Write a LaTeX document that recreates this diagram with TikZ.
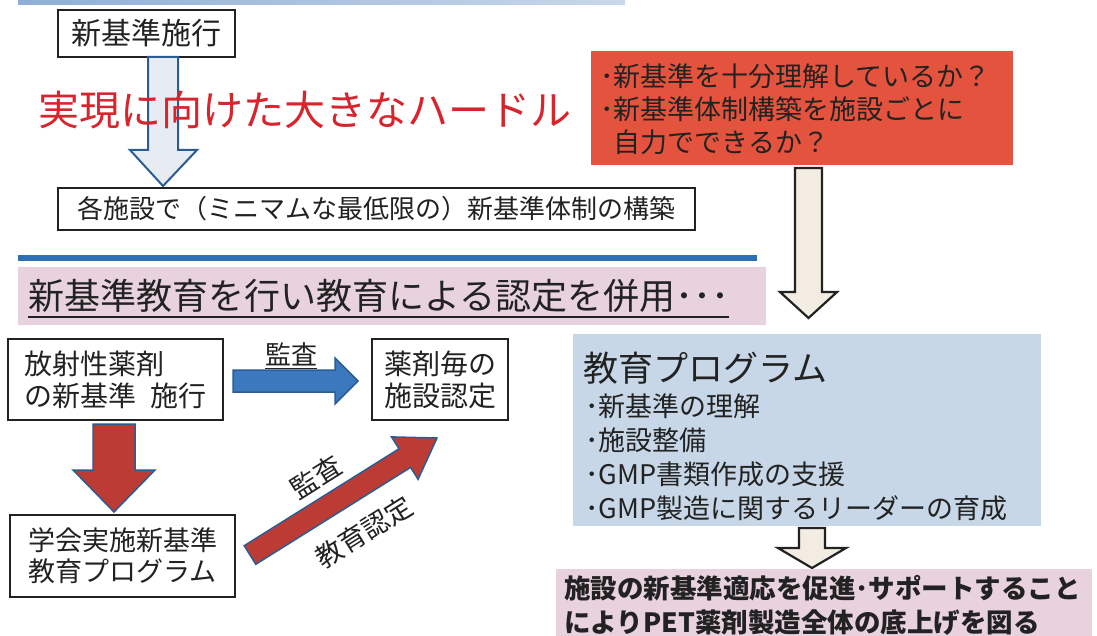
\documentclass[tikz,border=0pt]{standalone}
\usepackage{fontspec}
\setmainfont{Noto Sans CJK JP}
\newcommand\fs[2]{\fontsize{#1pt}{#2pt}\selectfont}
\definecolor{bandA}{HTML}{8FAED6}
\definecolor{bandB}{HTML}{C9D8EA}
\definecolor{hurdle}{HTML}{D8252D}
\definecolor{redbox}{HTML}{E4533D}
\definecolor{beige}{HTML}{F3ECE2}
\definecolor{rule}{HTML}{2E6FB3}
\definecolor{pinkbg}{HTML}{E8D2DE}
\definecolor{bluebg}{HTML}{C7D7E7}
\definecolor{arrblue}{HTML}{3B78BD}
\definecolor{arrblueline}{HTML}{2B5D93}
\definecolor{arrred}{HTML}{BD3B35}
\definecolor{paleblue}{HTML}{E6ECF1}
\definecolor{ink}{HTML}{222222}
\begin{document}
\begin{tikzpicture}[x=1pt,y=-1pt,
  box/.style={draw=ink, line width=1.2pt, fill=white, inner sep=0pt, text=ink},
  hollowblue/.style={draw=arrblueline, fill=paleblue, line width=2pt, line join=miter},
  hollowbeige/.style={draw=ink, fill=beige, line width=2.2pt, line join=miter},
  solidblue/.style={draw=arrblueline, fill=arrblue, line width=1.5pt, line join=miter},
  solidred/.style={draw=arrblueline, fill=arrred, line width=1.5pt, line join=miter},
  txt/.style={inner sep=0pt, text=ink}]
\useasboundingbox (0,0) rectangle (1097,636);
\fill[white] (0,0) rectangle (1097,636);
% top band
\shade[left color=bandA, right color=bandB] (18,0) rectangle (625,5);
% box 1
\node[box, minimum width=177, minimum height=47, font=\fs{30}{34}] (b1) at (146.5,33.5) {新基準施行};
% hollow blue arrow
\filldraw[hollowblue] (148,57) -- (178,57) -- (178,150) -- (197,150) -- (163,186) -- (130,150) -- (148,150) -- cycle;
% hurdle text
\node[inner sep=0pt, text=hurdle, font=\fs{41}{45}] (hurdle) at (305,110) {実現に向けた大きなハードル};
% box 2
\node[box, minimum width=637, minimum height=42, font=\fs{26}{30}] (b2) at (376.5,209) {各施設で（ミニマムな最低限の）新基準体制の構築};
% red box
\node[draw=none, fill=redbox, minimum width=422, minimum height=114, inner sep=0pt] (rb) at (802,108) {};
\node[txt, anchor=west, align=left, font=\fs{27}{33}] (rbt) at (600,109) {･新基準を十分理解しているか？\\･新基準体制構築を施設ごとに\\\hspace*{0.5em}自力でできるか？};
% beige arrow
\filldraw[hollowbeige] (795,168) -- (822,168) -- (822,292) -- (837,292) -- (808.5,318) -- (780,292) -- (795,292) -- cycle;
% blue rule
\fill[rule] (18,255) rectangle (757,261);
% pink header
\node[fill=pinkbg, minimum width=748, minimum height=58, inner sep=0pt] (hdr) at (392,296) {};
\node[txt, anchor=base west, font=\fs{36}{40}] (hdrt) at (28,309) {新基準教育を行い教育による認定を併用･･･};
\draw[ink, line width=1.3pt] ([yshift=-8pt]hdrt.base west) -- ([yshift=-8pt]hdrt.base east);
% box 3, 4, 5
\node[box, minimum width=215, minimum height=81, align=left, font=\fs{28}{32}] (b3) at (115.5,379.5) {放射性薬剤\\の新基準\hspace{0.5em}施行};
\node[box, minimum width=136, minimum height=81, align=left, font=\fs{28}{32}] (b4) at (440,379.5) {薬剤毎の\\施設認定};
\node[box, minimum width=225, minimum height=82, align=left, font=\fs{27}{31}] (b5) at (122.5,556) {学会実施新基準\\教育プログラム};
% blue right arrow
\filldraw[solidblue] (233,370) -- (335,370) -- (335,358) -- (358,381) -- (335,404) -- (335,392) -- (233,392) -- cycle;
\node[txt, font=\fs{26}{30}] (lab1) at (291,354) {監査};
\draw[ink, line width=1.2pt] ([yshift=-3pt]lab1.south west) -- ([yshift=-3pt]lab1.south east);
% red down arrow
\filldraw[solidred] (93,424) -- (135,424) -- (135,470) -- (155,470) -- (114,512) -- (73,470) -- (93,470) -- cycle;
% diagonal red arrow
\filldraw[solidred] (244.2,545.7) -- (399.0,448.8) -- (391.5,436.9) -- (437,438) -- (418.1,479.3) -- (410.6,467.4) -- (255.8,564.3) -- cycle;
\node[txt, rotate=32, font=\fs{27}{31}] (lab2) at (316,477) {監査};
\node[txt, rotate=32, font=\fs{27}{31}] (lab3) at (364,532) {教育認定};
% blue box
\node[fill=bluebg, minimum width=468, minimum height=192, inner sep=0pt] (bb) at (807,430) {};
\node[txt, anchor=west, font=\fs{35}{40}] (bbt) at (583,368) {教育プログラム};
\node[txt, anchor=west, font=\fs{27}{31}] (i1) at (585,406) {･新基準の理解};
\node[txt, anchor=west, font=\fs{27}{31}] (i2) at (585,440) {･施設整備};
\node[txt, anchor=west, font=\fs{27}{31}] (i3) at (585,474) {･GMP書類作成の支援};
\node[txt, anchor=west, font=\fs{27}{31}] (i4) at (585,508) {･GMP製造に関するリーダーの育成};
% small beige arrow
\filldraw[hollowbeige] (799,528) -- (825,528) -- (825,548) -- (846,548) -- (812,568) -- (778,548) -- (799,548) -- cycle;
% bottom pink box
\fill[pinkbg] (556,569) rectangle (1092,636);
\node[txt, anchor=west, align=left, font=\fs{26.5}{34}\bfseries] (bott) at (564,605) {施設の新基準適応を促進･サポートすること\\によりPET薬剤製造全体の底上げを図る};
\end{tikzpicture}
\end{document}
